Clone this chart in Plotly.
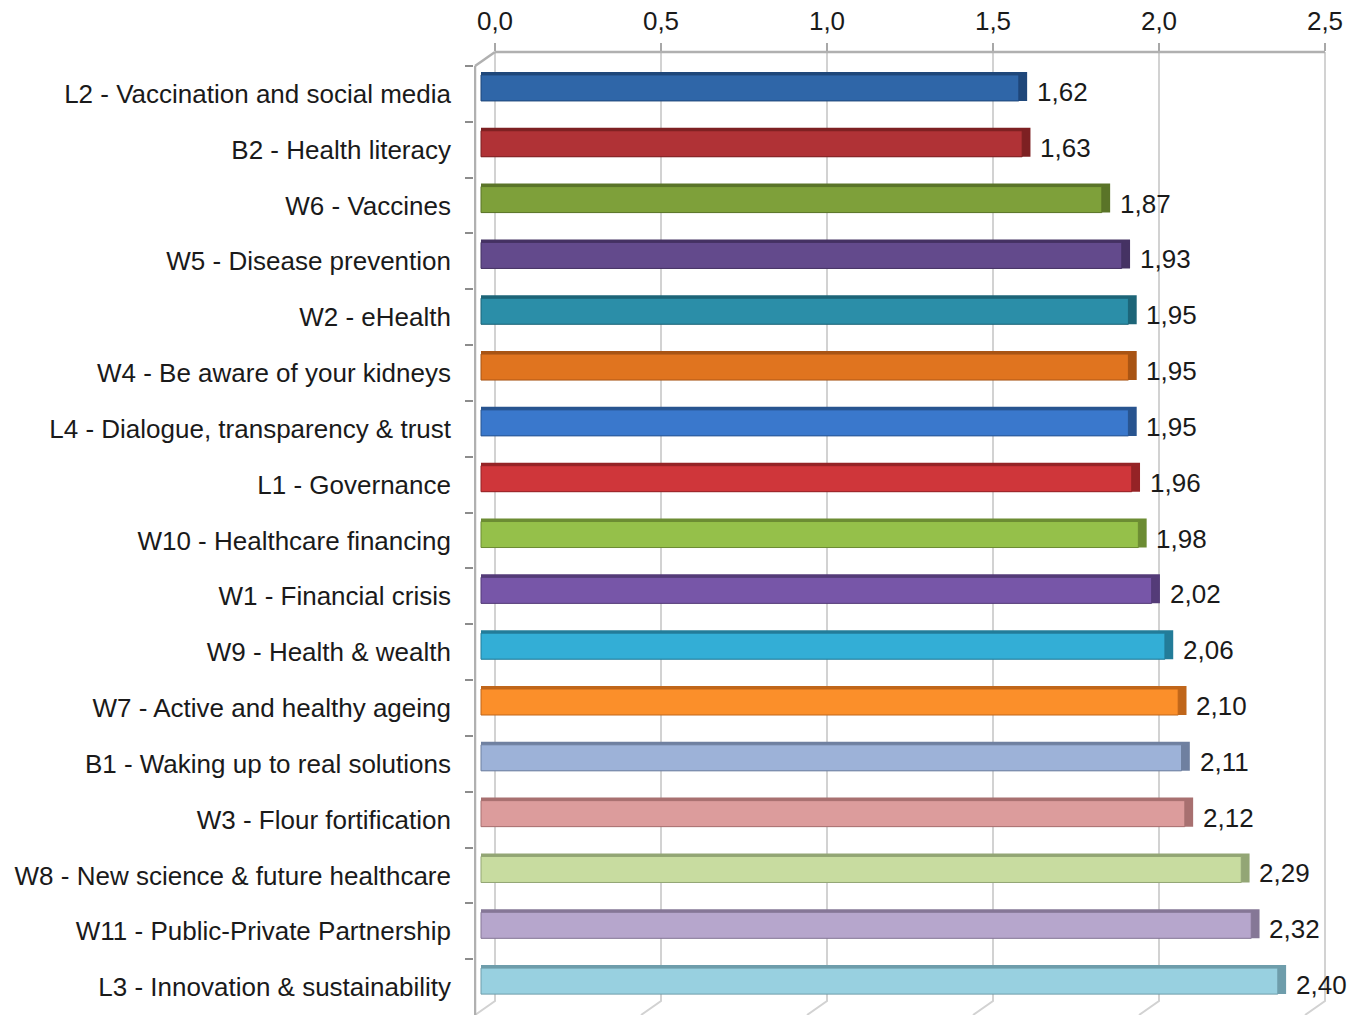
import plotly.graph_objects as go

categories = [
    "L2 - Vaccination and social media",
    "B2 - Health literacy",
    "W6 - Vaccines",
    "W5 - Disease prevention",
    "W2 - eHealth",
    "W4 - Be aware of your kidneys",
    "L4 - Dialogue, transparency & trust",
    "L1 - Governance",
    "W10 - Healthcare financing",
    "W1 - Financial crisis",
    "W9 - Health & wealth",
    "W7 - Active and healthy ageing",
    "B1 - Waking up to real solutions",
    "W3 - Flour fortification",
    "W8 - New science & future healthcare",
    "W11 - Public-Private Partnership",
    "L3 - Innovation & sustainability",
]
values = [1.62, 1.63, 1.87, 1.93, 1.95, 1.95, 1.95, 1.96, 1.98, 2.02, 2.06, 2.10, 2.11, 2.12, 2.29, 2.32, 2.40]
colors = ["#2f66a8", "#b03236", "#7ea03a", "#634a8c", "#2b8ea8", "#e0741f", "#3a78cc", "#cf363a",
          "#95c04a", "#7756a8", "#33aed6", "#fb8f2a", "#9db2d8", "#dc9c9c", "#c8dca0", "#b6a6cc", "#98d0e0"]
dark_colors = ["#1f477a", "#7d2022", "#5a7428", "#453263", "#1d6578", "#a85414", "#28548f", "#952326",
               "#6c8c33", "#543b78", "#237c99", "#c0661a", "#6f80a0", "#a87070", "#93a675", "#857796", "#6e9dab"]
tick_vals = [0.0, 0.5, 1.0, 1.5, 2.0, 2.5]

W, H = 1352, 1015
ML, MR, MT, MB = 474, 22, 52, 0
PW = W - ML - MR
PH = H - MT - MB
PX_PER_UNIT = 332.0
BACK_X0 = 495          # pixel of value 0 on back plane
FRONT_X0 = 481         # pixel of value 0 on bar front face
CAT_TOP = 66           # pixel of top category boundary (front plane)
N = len(categories)
cat_px = (H - CAT_TOP) / N
extra = (CAT_TOP - MT) / cat_px

x_range = [(ML - BACK_X0) / PX_PER_UNIT, (ML + PW - BACK_X0) / PX_PER_UNIT]
x2_range = [(ML - FRONT_X0) / PX_PER_UNIT, (ML + PW - FRONT_X0) / PX_PER_UNIT]

def py(p):
    return (H - p) / PH

FONT = "Liberation Sans"
TXT = "#1a1a1a"

fig = go.Figure()

# depth (top + side) faces
fig.add_trace(go.Bar(
    y=categories, x=[v + 0.025 for v in values], orientation="h",
    xaxis="x2", yaxis="y",
    width=0.52, offset=-0.394,
    marker=dict(color=dark_colors, line=dict(width=0)),
    hoverinfo="skip", showlegend=False,
))
# front faces
fig.add_trace(go.Bar(
    y=categories, x=values, orientation="h",
    xaxis="x2", yaxis="y",
    width=0.466, offset=-0.34,
    marker=dict(color=colors, line=dict(color=dark_colors, width=1)),
    showlegend=False,
))

shapes = []
grid_col = "#d2d2d2"
frame_col = "#b0b0b0"
dx = 20 / PX_PER_UNIT
wall_x = (475 - BACK_X0) / PX_PER_UNIT
for v in tick_vals:
    shapes.append(dict(type="path", xref="x", yref="paper",
                       path=f"M {v},{py(52)} L {v},{py(1001)} L {v - dx},{py(1015)}",
                       line=dict(color=grid_col, width=2), layer="below"))
# top back line
shapes.append(dict(type="line", xref="x", yref="paper", x0=0, x1=tick_vals[-1], y0=py(52), y1=py(52),
                   line=dict(color=frame_col, width=2.5), layer="below"))
# diagonal from wall to back top
shapes.append(dict(type="line", xref="x", yref="paper", x0=wall_x, x1=0, y0=py(CAT_TOP), y1=py(52),
                   line=dict(color=frame_col, width=2.5), layer="below"))
# left wall
shapes.append(dict(type="line", xref="x", yref="paper", x0=wall_x, x1=wall_x, y0=py(CAT_TOP), y1=0,
                   line=dict(color=frame_col, width=2.5), layer="below"))

annotations = []
for c, v in zip(categories, values):
    annotations.append(dict(x=v, y=c, xref="x2", yref="y", text=f"{v:.2f}".replace(".", ","),
                            showarrow=False, xanchor="left", yanchor="middle", xshift=16, yshift=2,
                            font=dict(size=26, color=TXT, family=FONT)))

fig.update_layout(
    width=W, height=H,
    margin=dict(l=ML, r=MR, t=MT, b=MB),
    paper_bgcolor="white", plot_bgcolor="white",
    barmode="overlay",
    separators=", ",
    font=dict(family=FONT, size=26, color=TXT),
    xaxis=dict(side="top", range=x_range, tickvals=tick_vals, tickformat=".1f",
               showgrid=False, zeroline=False, showline=False,
               ticks="outside", ticklen=8, tickwidth=2, tickcolor="#a8a8a8",
               ticklabelstandoff=3, tickfont=dict(size=26, color=TXT)),
    xaxis2=dict(overlaying="x", anchor="y", range=x2_range, visible=False, fixedrange=True),
    yaxis=dict(type="category", categoryorder="array", categoryarray=categories,
               range=[N - 0.5, -0.5 - extra], showgrid=False, zeroline=False, showline=False,
               tickson="boundaries", ticks="outside", ticklen=8, tickwidth=2, tickcolor="#8c8c8c",
               ticklabelstandoff=22, tickfont=dict(size=26, color=TXT)),
    shapes=shapes,
    annotations=annotations,
)

fig.write_html("out.html", config={"displayModeBar": False},
               post_script="document.body.style.margin='0';document.body.style.padding='0';")
